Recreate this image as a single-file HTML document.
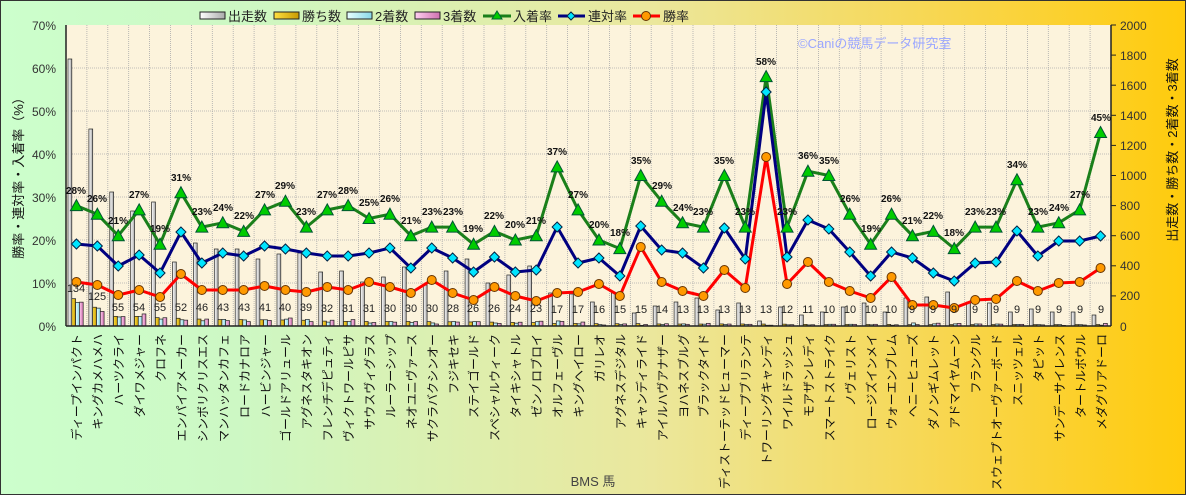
<!DOCTYPE html>
<html><head><meta charset="utf-8"><style>
body{margin:0;width:1186px;height:495px;overflow:hidden;font-family:"Liberation Sans","Noto Sans CJK JP",sans-serif}
svg{display:block}
</style></head><body>
<svg id="s" width="1186" height="495" xmlns="http://www.w3.org/2000/svg" font-family="Liberation Sans, Noto Sans CJK JP, sans-serif">
<defs>
<linearGradient id="bg" x1="0" x2="1" y1="0" y2="0">
<stop offset="0" stop-color="#ccffcc"/><stop offset="0.2" stop-color="#cdf8c4"/><stop offset="0.55" stop-color="#ebe79c"/><stop offset="0.8" stop-color="#f8d64e"/><stop offset="1" stop-color="#ffcb0c"/></linearGradient>
<linearGradient id="gw" x1="0" x2="1"><stop offset="0" stop-color="#fff"/><stop offset="1" stop-color="#aaa"/></linearGradient>
<linearGradient id="gy" x1="0" x2="1"><stop offset="0" stop-color="#ffe040"/><stop offset="1" stop-color="#c89a00"/></linearGradient>
<linearGradient id="gc" x1="0" x2="1"><stop offset="0" stop-color="#e8ffff"/><stop offset="1" stop-color="#88d8e8"/></linearGradient>
<linearGradient id="gp" x1="0" x2="1"><stop offset="0" stop-color="#ffd0f0"/><stop offset="1" stop-color="#d070b0"/></linearGradient>
</defs>
<rect x="0" y="0" width="1186" height="495" fill="url(#bg)"/>
<rect x="0.5" y="0.5" width="1185" height="494" fill="none" stroke="#333" stroke-width="1"/>
<rect x="66" y="25" width="1045" height="301" fill="#fcf3dc"/>
<g id="grid"></g>
<g id="bars"></g>
<g id="lines"></g>
<line x1="66" y1="25" x2="66" y2="326" stroke="#222" stroke-width="1.5"/>
<line x1="1111" y1="25" x2="1111" y2="326" stroke="#222" stroke-width="1.5"/>
<line x1="66" y1="326" x2="1111" y2="326" stroke="#222" stroke-width="1.5"/>
<text x="798" y="48" font-size="13" fill="#9aa6ff">©Caniの競馬データ研究室</text>
<g font-size="12" fill="#333" text-anchor="end">
<text x="56" y="30">70%</text><text x="56" y="73">60%</text><text x="56" y="116">50%</text><text x="56" y="159">40%</text><text x="56" y="202">30%</text><text x="56" y="245">20%</text><text x="56" y="288">10%</text><text x="56" y="331">0%</text>
</g>
<g font-size="12" fill="#333">
<text x="1120" y="30">2000</text><text x="1120" y="60">1800</text><text x="1120" y="90">1600</text><text x="1120" y="120">1400</text><text x="1120" y="150">1200</text><text x="1120" y="180">1000</text><text x="1120" y="210">800</text><text x="1120" y="240">600</text><text x="1120" y="270">400</text><text x="1120" y="300">200</text><text x="1120" y="331">0</text>
</g>
<text transform="translate(23,175) rotate(-90)" text-anchor="middle" font-size="13" fill="#111">勝率・連対率・入着率（%）</text>
<text transform="translate(1177,150) rotate(-90)" text-anchor="middle" font-size="13" fill="#111">出走数・勝ち数・2着数・3着数</text>
<text x="593" y="486" text-anchor="middle" font-size="13" fill="#444">BMS 馬</text>
<g font-size="13" fill="#222">
<rect x="200" y="12" width="25" height="7" fill="url(#gw)" stroke="#222"/><text x="228" y="21">出走数</text>
<rect x="274" y="12" width="25" height="7" fill="url(#gy)" stroke="#222"/><text x="302" y="21">勝ち数</text>
<rect x="347" y="12" width="25" height="7" fill="url(#gc)" stroke="#222"/><text x="375" y="21">2着数</text>
<rect x="415" y="12" width="25" height="7" fill="url(#gp)" stroke="#222"/><text x="443" y="21">3着数</text>
<line x1="483" y1="16" x2="511" y2="16" stroke="#1a7f1a" stroke-width="3"/><polygon points="497,11 502,19 492,19" fill="#00cc00" stroke="#063"/><text x="513" y="21">入着率</text>
<line x1="558" y1="16" x2="585" y2="16" stroke="#000080" stroke-width="3"/><polygon points="571,12 575,16 571,20 567,16" fill="#00e5ff" stroke="#024"/><text x="588" y="21">連対率</text>
<line x1="633" y1="16" x2="660" y2="16" stroke="#ff0000" stroke-width="3"/><circle cx="646" cy="16" r="4.5" fill="#ff9900" stroke="#630"/><text x="663" y="21">勝率</text>
</g>
<g font-size="10" font-weight="bold" fill="#111" text-anchor="middle">
<text x="76" y="194">28%</text><text x="97" y="202">26%</text><text x="118" y="224">21%</text><text x="139" y="198">27%</text><text x="160" y="232">19%</text><text x="181" y="181">31%</text><text x="202" y="215">23%</text><text x="223" y="211">24%</text><text x="244" y="219">22%</text><text x="265" y="198">27%</text><text x="285" y="189">29%</text><text x="306" y="215">23%</text><text x="327" y="198">27%</text><text x="348" y="194">28%</text><text x="369" y="206">25%</text><text x="390" y="202">26%</text><text x="411" y="224">21%</text><text x="432" y="215">23%</text><text x="453" y="215">23%</text><text x="473" y="232">19%</text><text x="494" y="219">22%</text><text x="515" y="228">20%</text><text x="536" y="224">21%</text><text x="557" y="155">37%</text><text x="578" y="198">27%</text><text x="599" y="228">20%</text><text x="620" y="236">18%</text><text x="641" y="164">35%</text><text x="662" y="189">29%</text><text x="683" y="211">24%</text><text x="703" y="215">23%</text><text x="724" y="164">35%</text><text x="745" y="215">23%</text><text x="766" y="65">58%</text><text x="787" y="215">23%</text><text x="808" y="159">36%</text><text x="829" y="164">35%</text><text x="850" y="202">26%</text><text x="871" y="232">19%</text><text x="891" y="202">26%</text><text x="912" y="224">21%</text><text x="933" y="219">22%</text><text x="954" y="236">18%</text><text x="975" y="215">23%</text><text x="996" y="215">23%</text><text x="1017" y="168">34%</text><text x="1038" y="215">23%</text><text x="1059" y="211">24%</text><text x="1080" y="198">27%</text><text x="1101" y="121">45%</text>
</g>
<g font-size="11" fill="#222" text-anchor="middle">
<text x="76" y="292">134</text><text x="97" y="300">125</text><text x="118" y="311">55</text><text x="139" y="311">54</text><text x="160" y="311">55</text><text x="181" y="311">52</text><text x="202" y="311">46</text><text x="223" y="311">43</text><text x="244" y="311">43</text><text x="265" y="311">41</text><text x="285" y="311">40</text><text x="306" y="311">39</text><text x="327" y="312">32</text><text x="348" y="312">31</text><text x="369" y="312">31</text><text x="390" y="312">30</text><text x="411" y="312">30</text><text x="432" y="312">30</text><text x="453" y="312">28</text><text x="473" y="312">26</text><text x="494" y="312">26</text><text x="515" y="312">24</text><text x="536" y="312">23</text><text x="557" y="313">17</text><text x="578" y="313">17</text><text x="599" y="313">16</text><text x="620" y="313">15</text><text x="641" y="313">15</text><text x="662" y="313">14</text><text x="683" y="313">13</text><text x="703" y="313">13</text><text x="724" y="313">13</text><text x="745" y="313">13</text><text x="766" y="313">13</text><text x="787" y="313">12</text><text x="808" y="313">11</text><text x="829" y="313">10</text><text x="850" y="313">10</text><text x="871" y="313">10</text><text x="891" y="313">10</text><text x="912" y="313">9</text><text x="933" y="313">9</text><text x="954" y="313">9</text><text x="975" y="313">9</text><text x="996" y="313">9</text><text x="1017" y="313">9</text><text x="1038" y="313">9</text><text x="1059" y="313">9</text><text x="1080" y="313">9</text><text x="1101" y="313">9</text>
</g>
<g font-size="12" fill="#111" text-anchor="end">
<text transform="translate(81,334) rotate(-90)">ディープインパクト</text>
<text transform="translate(102,334) rotate(-90)">キングカメハメハ</text>
<text transform="translate(123,334) rotate(-90)">ハーツクライ</text>
<text transform="translate(144,334) rotate(-90)">ダイワメジャー</text>
<text transform="translate(165,334) rotate(-90)">クロフネ</text>
<text transform="translate(186,334) rotate(-90)">エンパイアメーカー</text>
<text transform="translate(207,334) rotate(-90)">シンボリクリスエス</text>
<text transform="translate(228,334) rotate(-90)">マンハッタンカフェ</text>
<text transform="translate(249,334) rotate(-90)">ロードカナロア</text>
<text transform="translate(270,334) rotate(-90)">ハービンジャー</text>
<text transform="translate(290,334) rotate(-90)">ゴールドアリュール</text>
<text transform="translate(311,334) rotate(-90)">アグネスタキオン</text>
<text transform="translate(332,334) rotate(-90)">フレンチデピュティ</text>
<text transform="translate(353,334) rotate(-90)">ヴィクトワールピサ</text>
<text transform="translate(374,334) rotate(-90)">サウスヴィグラス</text>
<text transform="translate(395,334) rotate(-90)">ルーラーシップ</text>
<text transform="translate(416,334) rotate(-90)">ネオユニヴァース</text>
<text transform="translate(437,334) rotate(-90)">サクラバクシンオー</text>
<text transform="translate(458,334) rotate(-90)">フジキセキ</text>
<text transform="translate(478,334) rotate(-90)">ステイゴールド</text>
<text transform="translate(499,334) rotate(-90)">スペシャルウィーク</text>
<text transform="translate(520,334) rotate(-90)">タイキシャトル</text>
<text transform="translate(541,334) rotate(-90)">ゼンノロブロイ</text>
<text transform="translate(562,334) rotate(-90)">オルフェーヴル</text>
<text transform="translate(583,334) rotate(-90)">キングヘイロー</text>
<text transform="translate(604,334) rotate(-90)">ガリレオ</text>
<text transform="translate(625,334) rotate(-90)">アグネスデジタル</text>
<text transform="translate(646,334) rotate(-90)">キャンディライド</text>
<text transform="translate(667,334) rotate(-90)">アイルハヴアナザー</text>
<text transform="translate(688,334) rotate(-90)">ヨハネスブルグ</text>
<text transform="translate(708,334) rotate(-90)">ブラックタイド</text>
<text transform="translate(729,334) rotate(-90)">ディストーテッドヒューマー</text>
<text transform="translate(750,334) rotate(-90)">ディープブリランテ</text>
<text transform="translate(771,334) rotate(-90)">トワーリングキャンディ</text>
<text transform="translate(792,334) rotate(-90)">ワイルドラッシュ</text>
<text transform="translate(813,334) rotate(-90)">モアザンレディ</text>
<text transform="translate(834,334) rotate(-90)">スマートストライク</text>
<text transform="translate(855,334) rotate(-90)">ノヴェリスト</text>
<text transform="translate(876,334) rotate(-90)">ロージズインメイ</text>
<text transform="translate(896,334) rotate(-90)">ウォーエンブレム</text>
<text transform="translate(917,334) rotate(-90)">ヘニーヒューズ</text>
<text transform="translate(938,334) rotate(-90)">ダノンギムレット</text>
<text transform="translate(959,334) rotate(-90)">アドマイヤムーン</text>
<text transform="translate(980,334) rotate(-90)">フランクル</text>
<text transform="translate(1001,334) rotate(-90)">スウェプトオーヴァーボード</text>
<text transform="translate(1022,334) rotate(-90)">スニッツェル</text>
<text transform="translate(1043,334) rotate(-90)">タピット</text>
<text transform="translate(1064,334) rotate(-90)">サンデーサイレンス</text>
<text transform="translate(1085,334) rotate(-90)">タートルボウル</text>
<text transform="translate(1106,334) rotate(-90)">メダグリアドーロ</text>
</g>
</svg>
<script>
(function(){
var NS="http://www.w3.org/2000/svg";
function el(p,t,a){var e=document.createElementNS(NS,t);for(var k in a)e.setAttribute(k,a[k]);p.appendChild(e);return e;}
var grid=document.getElementById('grid'),bars=document.getElementById('bars'),lines=document.getElementById('lines');
var W=20.9,L=66;
for(var i=1;i<50;i++){var x=L+W*i;el(grid,'line',{x1:x,y1:25,x2:x,y2:326,stroke:'#aaa','stroke-width':0.8,'stroke-dasharray':'1,1'});}
for(var j=1;j<7;j++){var y=326-43*j;el(grid,'line',{x1:66,y1:y,x2:1111,y2:y,stroke:'#aaa','stroke-width':0.8,'stroke-dasharray':'1,1'});}
for(var j=1;j<=10;j++){var y=326-30.1*j;el(grid,'line',{x1:1111,y1:y,x2:1116,y2:y,stroke:'#222'});}
var G=[28,26,21,27,19,31,23,24,22,27,29,23,27,28,25,26,21,23,23,19,22,20,21,37,27,20,18,35,29,24,23,35,23,58,23,36,35,26,19,26,21,22,18,23,23,34,23,24,27,45];
var B=[244,246,266,255,273,232,263,253,256,246,249,253,256,256,253,248,268,248,258,272,257,272,270,227,263,258,276,226,250,253,268,228,259,92,257,220,229,252,276,252,258,273,281,263,262,231,256,241,241,236];
var R=[282,285,295,290,297,274,290,290,290,286,290,292,287,290,282,287,293,280,293,300,287,296,301,293,292,284,296,247,282,291,296,270,288,157,284,262,282,291,298,277,305,305,308,300,299,281,291,283,282,268];
var T=[59,129,192,211,202,262,243,249,249,259,254,253,272,271,282,277,267,285,271,259,283,275,266,293,294,302,293,313,306,302,298,310,303,321,307,315,312,307,303,312,298,297,292,302,303,312,309,312,312,315];
var gp=[],bp=[],rp=[];
for(var i=0;i<50;i++){
 var cx=L+W*(i+0.5),gy=326-4.3*G[i];
 gp.push(cx+','+gy);bp.push(cx+','+B[i]);rp.push(cx+','+R[i]);
 var h=326-T[i],x0=L+W*i+2,bw=3.8;
 var wh=h*(326-R[i])/430,sh=h*Math.max(0,R[i]-B[i])/430,th=h*Math.max(0,B[i]-gy)/430;
 var fills=['url(#gw)','url(#gy)','url(#gc)','url(#gp)'],hs=[h,wh,sh,th];
 for(var k=0;k<4;k++){if(hs[k]<0.5)hs[k]=0.8;el(bars,'rect',{x:x0+k*bw,y:326-hs[k],width:bw,height:hs[k],fill:fills[k],stroke:'#222','stroke-width':0.7});}
}
el(lines,'polyline',{points:gp.join(' '),fill:'none',stroke:'#1a7f1a','stroke-width':3,'stroke-linejoin':'round'});
el(lines,'polyline',{points:bp.join(' '),fill:'none',stroke:'#000080','stroke-width':3,'stroke-linejoin':'round'});
el(lines,'polyline',{points:rp.join(' '),fill:'none',stroke:'#ff0000','stroke-width':3,'stroke-linejoin':'round'});
for(var i=0;i<50;i++){
 var cx=L+W*(i+0.5),gy=326-4.3*G[i];
 el(lines,'polygon',{points:cx+','+(gy-6)+' '+(cx+6)+','+(gy+5)+' '+(cx-6)+','+(gy+5),fill:'#00cc00',stroke:'#053','stroke-width':1});
 el(lines,'polygon',{points:cx+','+(B[i]-5)+' '+(cx+5)+','+B[i]+' '+cx+','+(B[i]+5)+' '+(cx-5)+','+B[i],fill:'#00e5ff',stroke:'#024','stroke-width':1});
 el(lines,'circle',{cx:cx,cy:R[i],r:4.5,fill:'#ff9900',stroke:'#630','stroke-width':1});
}
})();
</script>
</body></html>
